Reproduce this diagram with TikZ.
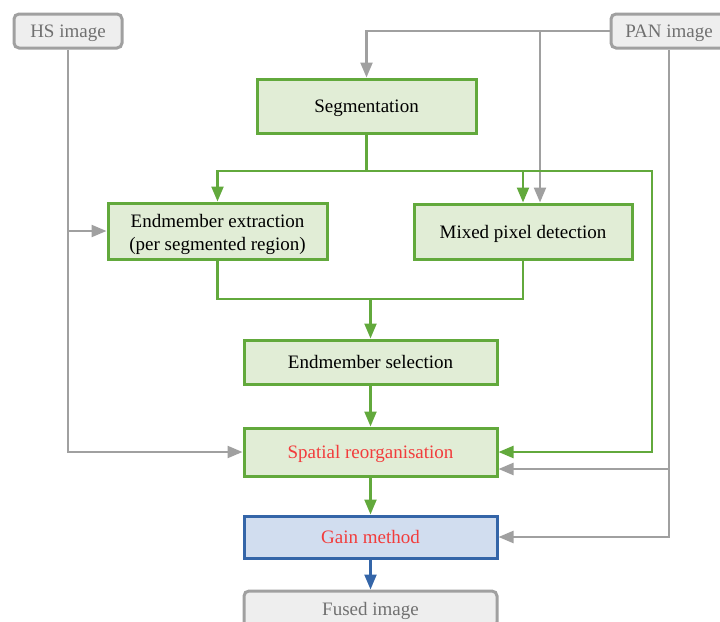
\documentclass[tikz,border=0pt]{standalone}
\usepackage{fontspec}
\setmainfont{Liberation Serif}
\usetikzlibrary{arrows.meta}
\definecolor{gline}{HTML}{62A93C}
\definecolor{gfill}{HTML}{E1EDD6}
\definecolor{bline}{HTML}{3465A8}
\definecolor{bfill}{HTML}{D1DDEF}
\definecolor{grline}{HTML}{A0A0A0}
\definecolor{grfill}{HTML}{EEEEEE}
\definecolor{grtext}{HTML}{707070}
\definecolor{rtext}{HTML}{F23C3C}
\tikzset{
  box/.style={draw=gline, fill=gfill, line width=3pt, inner sep=0pt, align=center,
    font=\fontsize{19}{23}\selectfont},
  oneline/.style={text height=17.5pt, text depth=4pt},
  bluebox/.style={box, draw=bline, fill=bfill},
  iobox/.style={box, draw=grline, fill=grfill, rounded corners=5pt, text=grtext},
  tip/.style={-{Triangle[length=15pt,width=12pt]}},
  garrow/.style={draw=gline, line width=2.3pt, tip},
  gline/.style={draw=gline, line width=2.3pt},
  grarrow/.style={draw=grline, line width=2.3pt, tip},
  barrow/.style={draw=bline, line width=2.3pt, tip},
}
\begin{document}
\begin{tikzpicture}[x=1pt,y=-1pt]
\useasboundingbox (0,0) rectangle (720,621);
\clip (0,0) rectangle (720,621);
% nodes
\node[iobox, oneline, minimum width=108pt, minimum height=34pt] (hs) at (68,31) {HS image};
\node[iobox, oneline, minimum width=116pt, minimum height=34pt] (pan) at (669,31) {PAN image};
\node[box, oneline, minimum width=219pt, minimum height=54pt] (seg) at (366.5,106) {Segmentation};
\node[box, minimum width=219pt, minimum height=56pt] (ext) at (217.5,231) {\rule{0pt}{20pt}Endmember extraction\\(per segmented region)};
\node[box, oneline, minimum width=218pt, minimum height=55pt] (mix) at (523,231.5) {Mixed pixel detection};
\node[box, oneline, minimum width=253pt, minimum height=44pt] (sel) at (370.5,362) {Endmember selection};
\node[box, oneline, minimum width=253pt, minimum height=48pt, text=rtext] (spa) at (370.5,452) {Spatial reorganisation};
\node[bluebox, oneline, minimum width=253pt, minimum height=42pt, text=rtext] (gain) at (370.5,537) {Gain method};
\node[iobox, oneline, minimum width=253pt, minimum height=36pt] (fused) at (370.5,609) {Fused image};
% coordinates
\coordinate (p1) at (540,31);
\coordinate (q1) at (669,469);
\coordinate (g1) at (366.5,171);
\coordinate (g2) at (370.5,299);
\coordinate (g3) at (652,171);
\coordinate (h1) at (68,231);
% PAN connectors
\draw[grarrow] (pan.west) -| (seg.north);
\draw[grarrow] (p1) -- (p1 |- mix.north);
\draw[grarrow] (pan.south) |- (gain.east);
\draw[grarrow] (q1) -- (q1 -| spa.east);
% HS connectors
\draw[grarrow] (hs.south) |- (spa.west);
\draw[grarrow] (h1) -- (ext.west);
% green connectors
\draw[gline] (seg.south) -- (g1);
\draw[garrow] (g1) -| (ext.north);
\draw[garrow] (g1) -| (mix.north);
\draw[garrow] (g1) -- (g3) |- (spa.east);
\draw[gline] (ext.south) |- (g2);
\draw[gline] (mix.south) |- (g2);
\draw[garrow] (g2) -- (sel.north);
\draw[garrow] (sel.south) -- (spa.north);
\draw[garrow] (spa.south) -- (gain.north);
\draw[barrow] (gain.south) -- (fused.north);
\end{tikzpicture}
\end{document}
